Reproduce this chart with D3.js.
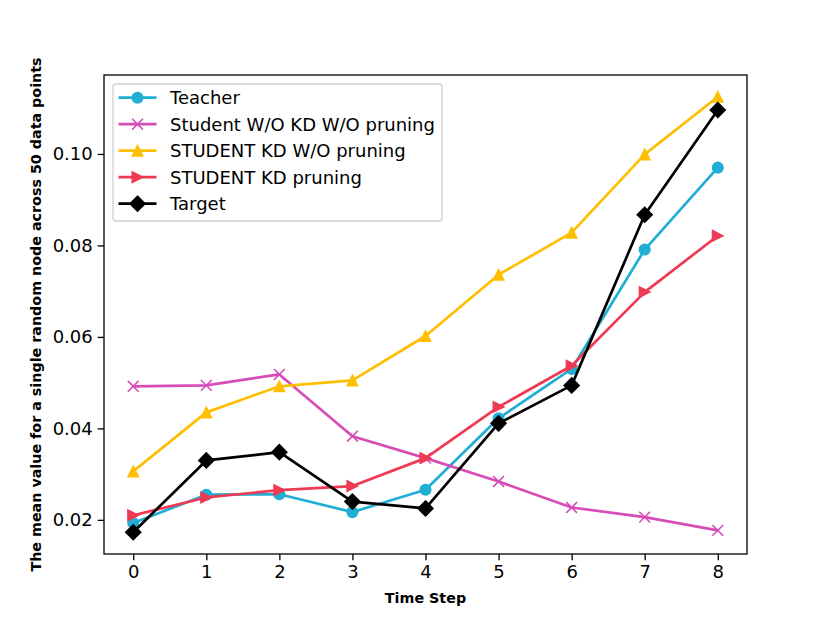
<!DOCTYPE html>
<html>
<head>
<meta charset="utf-8">
<script src="https://cdn.jsdelivr.net/npm/d3@7"></script>
<style>
	body { margin: 0; background: #fff; }
	text { font-family: "DejaVu Sans", sans-serif; }
</style>
</head>
<body>
<script>
"use strict";

const steps = [0, 1, 2, 3, 4, 5, 6, 7, 8];
const teacher = [0.0193, 0.0255, 0.0256, 0.0217, 0.0266, 0.0422, 0.0530, 0.0791, 0.0970];
const studentNoKd = [0.0492, 0.0494, 0.0518, 0.0383, 0.0335, 0.0284, 0.0227, 0.0206, 0.0177];
const studentKdNoPrune = [0.0306, 0.0435, 0.0492, 0.0505, 0.0602, 0.0736, 0.0828, 0.0999, 0.1125];
const studentKdPrune = [0.0210, 0.0249, 0.0265, 0.0274, 0.0335, 0.0447, 0.0537, 0.0698, 0.0821];
const target = [0.0173, 0.0330, 0.0348, 0.0240, 0.0225, 0.0411, 0.0494, 0.0867, 0.1096];
const yTicks = [0.02, 0.04, 0.06, 0.08, 0.10];

const series = [
	{name: "Teacher", values: teacher, color: "#21aed5", marker: "circle"},
	{name: "Student W/O KD W/O pruning", values: studentNoKd, color: "#d64db8", marker: "x"},
	{name: "STUDENT KD W/O pruning", values: studentKdNoPrune, color: "#ffbf00", marker: "up"},
	{name: "STUDENT KD pruning", values: studentKdPrune, color: "#ef3a54", marker: "right"},
	{name: "Target", values: target, color: "#000000", marker: "diamond"}
];

const width = 830, height = 623;
const plotLeft = 104, plotRight = 747, plotTop = 75, plotBottom = 554;

const svg = d3.select("body").append("svg").attr("width", width).attr("height", height);

// matplotlib style 5% margins around the data
const all = series.flatMap(s => s.values);
const yMin = d3.min(all), yMax = d3.max(all);
const pad = (yMax - yMin) * 0.05;
const x = d3.scaleLinear().domain([-0.4, 8.4]).range([plotLeft, plotRight]);
const y = d3.scaleLinear().domain([yMin - pad, yMax + pad]).range([plotBottom, plotTop]);

const ms = 10.8;

function drawMarker(g, kind, cx, cy, color) {
	const h = ms / 2;
	if (kind === "circle") {
		g.append("circle").attr("cx", cx).attr("cy", cy).attr("r", h)
			.attr("fill", color).attr("stroke", color).attr("stroke-width", 1.3);
	} else if (kind === "x") {
		g.append("path")
			.attr("d", `M${cx - h},${cy - h}L${cx + h},${cy + h}M${cx - h},${cy + h}L${cx + h},${cy - h}`)
			.attr("stroke", color).attr("stroke-width", 1.6).attr("fill", "none");
	} else if (kind === "up") {
		g.append("path")
			.attr("d", `M${cx},${cy - h}L${cx - h},${cy + h}L${cx + h},${cy + h}Z`)
			.attr("fill", color).attr("stroke", color).attr("stroke-width", 1.3);
	} else if (kind === "right") {
		g.append("path")
			.attr("d", `M${cx + h},${cy}L${cx - h},${cy - h}L${cx - h},${cy + h}Z`)
			.attr("fill", color).attr("stroke", color).attr("stroke-width", 1.3);
	} else if (kind === "diamond") {
		const d = h * Math.SQRT2;
		g.append("path")
			.attr("d", `M${cx},${cy - d}L${cx + d},${cy}L${cx},${cy + d}L${cx - d},${cy}Z`)
			.attr("fill", color).attr("stroke", color).attr("stroke-width", 1.3);
	}
}

// axes
const xAxis = svg.append("g").attr("transform", `translate(0,${plotBottom})`)
	.call(d3.axisBottom(x).tickValues(steps).tickFormat(d3.format("d")).tickSizeOuter(0).tickSize(6.3).tickPadding(5));
const yAxis = svg.append("g").attr("transform", `translate(${plotLeft},0)`)
	.call(d3.axisLeft(y).tickValues(yTicks).tickFormat(d3.format(".2f")).tickSizeOuter(0).tickSize(6.3).tickPadding(5));
[xAxis, yAxis].forEach(a => {
	a.select(".domain").remove();
	a.selectAll(".tick line").attr("stroke", "#000").attr("stroke-width", 1.3);
	a.selectAll(".tick text").attr("font-size", 18).attr("fill", "#000")
		.style("font-family", "DejaVu Sans");
});

// series
const line = d3.line().x((d, i) => x(steps[i])).y(d => y(d));
for (let s of series) {
	const g = svg.append("g");
	g.append("path").attr("d", line(s.values))
		.attr("fill", "none").attr("stroke", s.color).attr("stroke-width", 2.7)
		.attr("stroke-linejoin", "round").attr("stroke-linecap", "square");
	s.values.forEach((v, i) => drawMarker(g, s.marker, x(steps[i]), y(v), s.color));
}

// frame
svg.append("rect").attr("x", plotLeft).attr("y", plotTop)
	.attr("width", plotRight - plotLeft).attr("height", plotBottom - plotTop)
	.attr("fill", "none").attr("stroke", "#000").attr("stroke-width", 1.3);

// legend
const leg = svg.append("g");
leg.append("rect").attr("x", 113).attr("y", 84).attr("width", 329).attr("height", 137)
	.attr("rx", 3).attr("fill", "#fff").attr("fill-opacity", 0.8)
	.attr("stroke", "#d0d0d0").attr("stroke-width", 1.3);
series.forEach((s, i) => {
	const ly = 97.7 + i * 26.5;
	leg.append("line").attr("x1", 118.5).attr("x2", 156.5).attr("y1", ly).attr("y2", ly)
		.attr("stroke", s.color).attr("stroke-width", 2.7);
	drawMarker(leg, s.marker, 137.5, ly, s.color);
	leg.append("text").attr("x", 170).attr("y", ly).attr("dy", "0.35em")
		.attr("font-size", 18).attr("fill", "#000").text(s.name);
});

// axis labels
svg.append("text").attr("x", (plotLeft + plotRight) / 2).attr("y", 603).attr("text-anchor", "middle")
	.attr("font-size", 14.3).attr("font-weight", "bold").text("Time Step");
svg.append("text").attr("transform", `translate(41,${(plotTop + plotBottom) / 2}) rotate(-90)`)
	.attr("text-anchor", "middle").attr("font-size", 14.3).attr("font-weight", "bold")
	.text("The mean value for a single random node across 50 data points");
</script>
</body>
</html>
